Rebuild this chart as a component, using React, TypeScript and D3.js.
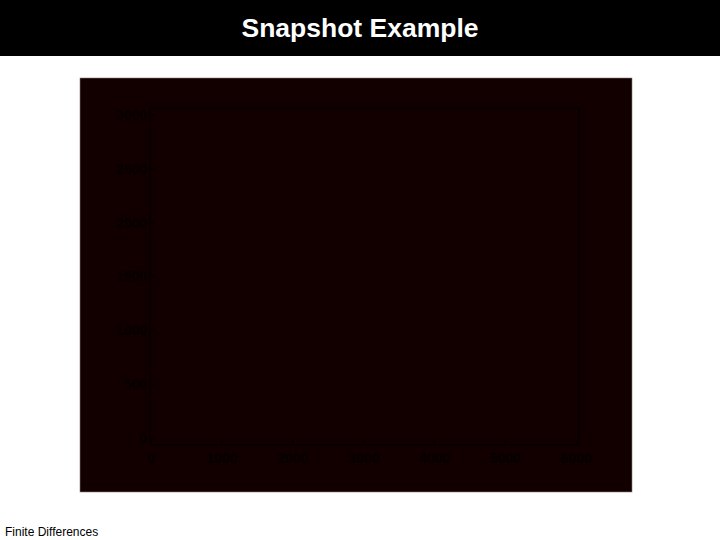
import React from "react";
import * as d3 from "d3";

const title = "Snapshot Example";
const footer = "Finite Differences";
const xTicks = [0, 1000, 2000, 3000, 4000, 5000, 6000];
const yTicks = [0, 500, 1000, 1500, 2000, 2500, 3000];
const xDomain = [-15, 6040];
const yDomain = [-65, 3065];

export default function App() {
  const W = 720, H = 540;
  const x = d3.scaleLinear().domain(xDomain).range([150, 579]);
  const y = d3.scaleLinear().domain(yDomain).range([445, 108]);
  const bg = "#120000";
  const ink = "#060000";
  return (
    <svg width={W} height={H} style={{ position: "absolute", left: 0, top: 0, display: "block" }}
      fontFamily="Liberation Sans, Arial, sans-serif">
      <rect x={0} y={0} width={W} height={H} fill="#ffffff" />
      <rect x={0} y={0} width={W} height={56} fill="#000000" />
      <text x={360} y={37} textAnchor="middle" fill="#ffffff" fontSize={26.5} fontWeight="bold">{title}</text>
      <rect x={80} y={78} width={552} height={414} fill={bg} stroke="#8a7a78" strokeWidth={0.6} />
      <rect x={x(xDomain[0])} y={y(yDomain[1])} width={x(xDomain[1]) - x(xDomain[0])}
        height={y(yDomain[0]) - y(yDomain[1])} fill="none" stroke={ink} strokeWidth={1.5} />
      {yTicks.map((t) => (
        <g key={"y" + t}>
          <line x1={x(xDomain[0])} x2={x(xDomain[0]) + 5} y1={y(t)} y2={y(t)} stroke={ink} strokeWidth={1.5} />
          <text x={x(xDomain[0]) - 3} y={y(t)} dy="0.35em" textAnchor="end" fill={ink} fontSize={14} fontWeight="bold">{t}</text>
        </g>
      ))}
      {xTicks.map((t) => (
        <g key={"x" + t}>
          <line x1={x(t)} x2={x(t)} y1={y(yDomain[0])} y2={y(yDomain[0]) - 5} stroke={ink} strokeWidth={1.5} />
          <text x={x(t)} y={y(yDomain[0]) + 18} textAnchor="middle" fill={ink} fontSize={14} fontWeight="bold">{t}</text>
        </g>
      ))}
      <text x={5} y={536} fill="#000000" fontSize={12}>{footer}</text>
    </svg>
  );
}
